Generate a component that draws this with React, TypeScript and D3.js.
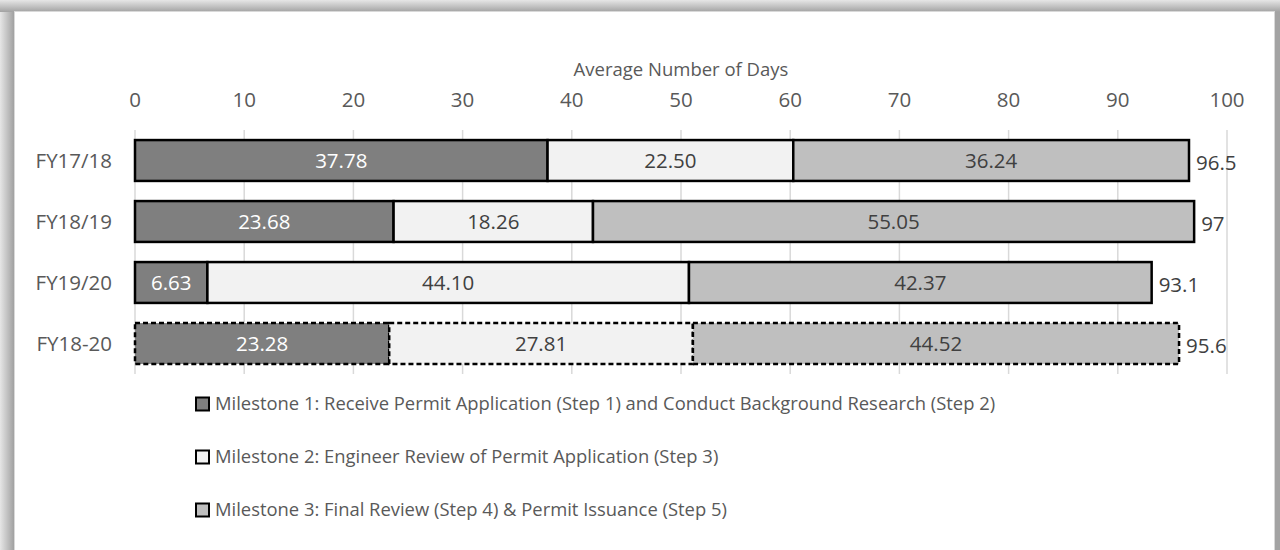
import React from "react";
import * as d3 from "d3";

const categories = ["FY17/18", "FY18/19", "FY19/20", "FY18-20"];
const milestone1 = [37.78, 23.68, 6.63, 23.28];
const milestone2 = [22.5, 18.26, 44.1, 27.81];
const milestone3 = [36.24, 55.05, 42.37, 44.52];
const totalLabels = ["96.5", "97", "93.1", "95.6"];
const xTicks = [0, 10, 20, 30, 40, 50, 60, 70, 80, 90, 100];
const seriesNames = [
  "Milestone 1: Receive Permit Application (Step 1) and Conduct Background Research (Step 2)",
  "Milestone 2: Engineer Review of Permit Application (Step 3)",
  "Milestone 3: Final Review (Step 4) & Permit Issuance (Step 5)",
];
const seriesColors = ["#7f7f7f", "#f2f2f2", "#bfbfbf"];
const labelColors = ["#ffffff", "#404040", "#404040"];
const dashedCategory = "FY18-20";

const W = 1280;
const H = 550;
const FONT = "'Open Sans', sans-serif";

export default function App() {
  const x = d3.scaleLinear().domain([0, 100]).range([135, 1227]);
  const y = d3
    .scaleBand<string>()
    .domain(categories)
    .range([130, 374])
    .paddingInner(0.33)
    .paddingOuter(0.165);

  const series = [milestone1, milestone2, milestone3];
  const rows = categories.map((c, i) => {
    const vals = series.map((s) => s[i]);
    const stack = d3.cumsum(vals);
    return { cat: c, vals, ends: Array.from(stack), total: stack[stack.length - 1] };
  });
  const fmt = d3.format(".2f");

  return (
    <div style={{ position: "absolute", left: 0, top: 0 }}>
      <svg width={W} height={H} style={{ display: "block" }} fontFamily={FONT}>
        <defs>
          <linearGradient id="gl" x1="0" x2="1" y1="0" y2="0">
            <stop offset="0" stopColor="#e6e6e6" />
            <stop offset="1" stopColor="#9c9c9c" />
          </linearGradient>
          <linearGradient id="gt" x1="0" x2="0" y1="0" y2="1">
            <stop offset="0" stopColor="#e6e6e6" />
            <stop offset="1" stopColor="#a2a2a2" />
          </linearGradient>
        </defs>
        <rect x={0} y={0} width={W} height={H} fill="#a3a3a3" />
        <rect x={0} y={0} width={15} height={H} fill="url(#gl)" />
        <rect x={0} y={0} width={W} height={12} fill="url(#gt)" />
        <rect x={14.5} y={11.5} width={1260} height={540} fill="#ffffff" stroke="#d9d9d9" />

        <text x={(x(0) + x(100)) / 2} y={76} textAnchor="middle" fontSize={18.5} fill="#595959">
          Average Number of Days
        </text>

        {xTicks.map((t) => (
          <g key={t}>
            <line x1={x(t)} x2={x(t)} y1={130} y2={374} stroke="#d9d9d9" strokeWidth={1.5} />
            <text x={x(t)} y={107} textAnchor="middle" fontSize={20.5} fill="#595959">
              {t}
            </text>
          </g>
        ))}

        {rows.map((r) => {
          const y0 = y(r.cat)!;
          const bh = y.bandwidth();
          const dashed = r.cat === dashedCategory;
          return (
            <g key={r.cat}>
              <text
                x={112}
                y={y0 + bh / 2}
                dy="0.35em"
                textAnchor="end"
                fontSize={20.5}
                fill="#595959"
              >
                {r.cat}
              </text>
              {r.vals.map((v, k) => {
                const start = k === 0 ? 0 : r.ends[k - 1];
                const x0 = x(start);
                const x1 = x(r.ends[k]);
                return (
                  <g key={k}>
                    <rect
                      x={x0}
                      y={y0}
                      width={x1 - x0}
                      height={bh}
                      fill={seriesColors[k]}
                      stroke="#000"
                      strokeWidth={2.5}
                      strokeDasharray={dashed ? "5,3" : undefined}
                    />
                    <text
                      x={(x0 + x1) / 2}
                      y={y0 + bh / 2}
                      dy="0.35em"
                      textAnchor="middle"
                      fontSize={20.5}
                      fill={labelColors[k]}
                    >
                      {fmt(v)}
                    </text>
                  </g>
                );
              })}
              <text
                x={x(r.total) + 7}
                y={y0 + bh / 2 + 2}
                dy="0.35em"
                fontSize={20.5}
                fill="#404040"
              >
                {totalLabels[categories.indexOf(r.cat)]}
              </text>
            </g>
          );
        })}

        {seriesNames.map((n, k) => {
          const cy = 404 + k * 53;
          return (
            <g key={n}>
              <rect
                x={196}
                y={cy - 6.5}
                width={13}
                height={13}
                fill={seriesColors[k]}
                stroke="#000"
                strokeWidth={2}
              />
              <text x={215} y={cy} dy="0.35em" fontSize={18.4} fill="#595959">
                {n}
              </text>
            </g>
          );
        })}
      </svg>
    </div>
  );
}
